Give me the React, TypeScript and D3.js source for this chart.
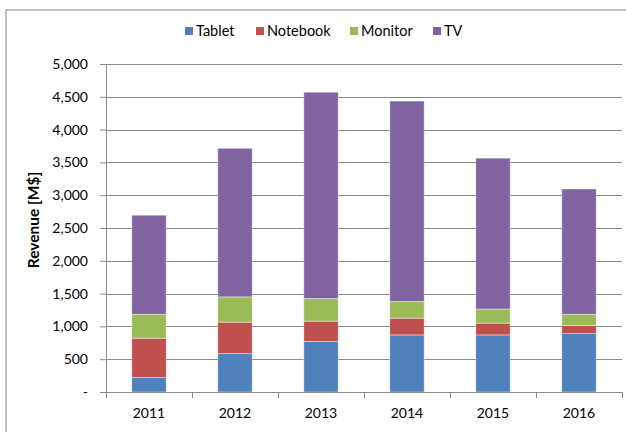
import React, { useEffect, useRef } from 'react';
import * as d3 from 'd3';

const years = ['2011', '2012', '2013', '2014', '2015', '2016'];
const series = ['Tablet', 'Notebook', 'Monitor', 'TV'];
const tablet = [220, 585, 770, 870, 870, 890];
const notebook = [600, 480, 310, 255, 180, 125];
const monitor = [365, 385, 345, 255, 215, 170];
const tv = [1510, 2265, 3145, 3055, 2300, 1910];
const yTicks = [0, 500, 1000, 1500, 2000, 2500, 3000, 3500, 4000, 4500, 5000];
const colors = ['#4F81BD', '#C0504D', '#9BBB59', '#8064A2'];

export default function App() {
  const ref = useRef<SVGSVGElement>(null);

  useEffect(() => {
    const svg = d3.select(ref.current);
    svg.selectAll('*').remove();

    const font = 'Lato, "Open Sans", sans-serif';
    const margin = { top: 64, left: 106, right: 4, bottom: 40 };
    const width = 626;
    const height = 432;
    const plotW = width - margin.left - margin.right;
    const plotH = height - margin.top - margin.bottom;

    // chart frame (cut off on the right and bottom)
    svg.append('rect')
      .attr('x', 6).attr('y', 10)
      .attr('width', 640).attr('height', 440)
      .attr('fill', '#fff')
      .attr('stroke', '#868686')
      .attr('stroke-width', 1);

    const table = years.map((y, i) => ({
      year: y, Tablet: tablet[i], Notebook: notebook[i], Monitor: monitor[i], TV: tv[i]
    }));
    const stacked = d3.stack<any>().keys(series)(table);

    const x = d3.scaleBand().domain(years).range([0, plotW]).paddingInner(0.6).paddingOuter(0.3);
    const xTickScale = d3.scaleBand().domain(years).range([0, plotW]);
    const y = d3.scaleLinear().domain([0, 5000]).range([plotH, 0]);

    const plot = svg.append('g')
      .attr('transform', 'translate(' + margin.left + ',' + margin.top + ')');

    // gridlines
    plot.selectAll('.grid').data(yTicks.slice(1)).enter()
      .append('line')
      .attr('x1', 0).attr('x2', plotW)
      .attr('y1', d => Math.round(y(d)) + 0.5).attr('y2', d => Math.round(y(d)) + 0.5)
      .attr('stroke', '#8a8a8a').attr('stroke-width', 1);

    // bars
    plot.selectAll('.layer').data(stacked).enter()
      .append('g')
      .attr('fill', (d, i) => colors[i])
      .selectAll('rect').data(d => d).enter()
      .append('rect')
      .attr('x', d => x(d.data.year) as number)
      .attr('y', d => y(d[1]))
      .attr('width', x.bandwidth())
      .attr('height', d => y(d[0]) - y(d[1]))
      .attr('stroke', 'rgba(255,255,255,0.5)')
      .attr('stroke-width', 0.8);

    // y axis
    const yAxis = plot.append('g')
      .call(d3.axisLeft(y).tickValues(yTicks).tickSize(6).tickPadding(12)
        .tickFormat(d => (+d === 0 ? '-' : d3.format(',')(+d))));
    yAxis.select('.domain').attr('stroke', '#8a8a8a').attr('d', 'M0.5,0V' + plotH);
    yAxis.selectAll('.tick line').attr('stroke', '#8a8a8a');
    yAxis.selectAll('text').attr('font-family', font).attr('font-size', 14).attr('fill', '#000');

    // x axis
    const xAxis = plot.append('g')
      .attr('transform', 'translate(0,' + plotH + ')');
    xAxis.append('line')
      .attr('x1', 0).attr('x2', plotW).attr('y1', 0.5).attr('y2', 0.5)
      .attr('stroke', '#8a8a8a');
    const edges = years.map(d => xTickScale(d) as number).concat([plotW]);
    xAxis.selectAll('.xt').data(edges).enter()
      .append('line')
      .attr('x1', d => Math.round(d) + 0.5).attr('x2', d => Math.round(d) + 0.5)
      .attr('y1', 0).attr('y2', 6)
      .attr('stroke', '#8a8a8a');
    xAxis.selectAll('.xl').data(years).enter()
      .append('text')
      .attr('x', d => (xTickScale(d) as number) + xTickScale.bandwidth() / 2)
      .attr('y', 26)
      .attr('text-anchor', 'middle')
      .attr('font-family', font).attr('font-size', 14)
      .text(d => d);

    // y axis title
    svg.append('text')
      .attr('transform', 'translate(39,' + (margin.top + plotH / 2 - 8) + ') rotate(-90)')
      .attr('text-anchor', 'middle')
      .attr('font-family', font).attr('font-size', 15.5).attr('font-weight', 'bold')
      .text('Revenue [M$]');

    // legend
    const legendX = [185, 256, 350, 433];
    const legend = svg.selectAll('.legend').data(series).enter()
      .append('g')
      .attr('transform', (d, i) => 'translate(' + legendX[i] + ',31)');
    legend.append('rect')
      .attr('x', 0).attr('y', -4).attr('width', 8).attr('height', 8)
      .attr('fill', (d, i) => colors[i]);
    legend.append('text')
      .attr('x', 11).attr('y', 5)
      .attr('font-family', font).attr('font-size', 14.5)
      .text(d => d);
  }, []);

  return (
    <svg ref={ref} width={626} height={432}
      style={{ position: 'absolute', left: 0, top: 0, background: '#fff' }} />
  );
}
